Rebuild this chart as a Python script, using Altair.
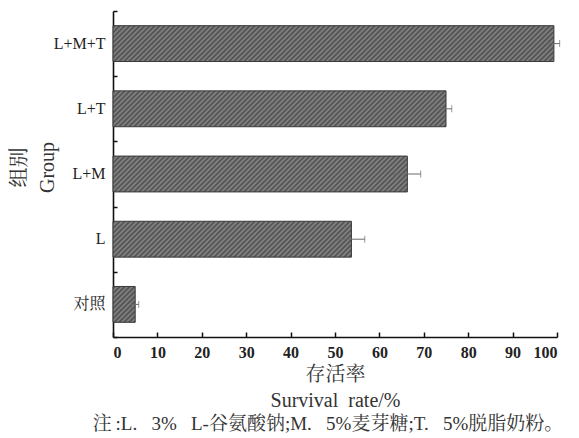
import altair as alt
import pandas as pd

# ---- data ----
groups = ["L+M+T", "L+T", "L+M", "L", "对照"]
survival = [99.3, 75.0, 66.3, 53.7, 5.0]
errors = [1.3, 1.3, 3.0, 3.0, 0.8]
x_ticks = [0, 10, 20, 30, 40, 50, 60, 70, 80, 90, 100]
note = ("注\u2009:L.\u00a0\u00a0 3%\u00a0\u00a0 L-谷氨酸钠;M.\u00a0\u00a0 5%麦芽糖;"
        "T.\u00a0\u00a0 5%脱脂奶粉。")

df = pd.DataFrame({"group": groups, "rate": survival, "err": errors})
df["lo"] = df["rate"] - df["err"]
df["hi"] = df["rate"] + df["err"]

PW, PH = 444, 326
BAND = 0.55
FONT = "Liberation Serif, Noto Serif CJK SC, Noto Sans CJK SC"


def hatch(value, pitch=5.0, light="#7f7f7f", dark="#555555"):
    """Diagonal hatch as a striped linear gradient (style only)."""
    W = max(value / 100.0 * PW, 1.0)
    H = BAND * PH / len(groups)
    D = W + H * H / W
    k = (W + H) / D
    total = W + H
    stops = []
    s = 0.0
    while s < total:
        for frac, col in [(0.0, light), (0.25, dark), (0.5, dark), (0.75, light)]:
            o = (s + frac * pitch) / total
            if o <= 1.0:
                stops.append({"offset": round(o, 5), "color": col})
        s += pitch
    stops.append({"offset": 1.0, "color": light})
    return {"gradient": "linear", "x1": 0, "y1": 0, "x2": round(k, 5),
            "y2": round(k * H / W, 5), "stops": stops}


yscale = alt.Scale(domain=groups, paddingInner=0, paddingOuter=0)
xscale = alt.Scale(domain=[0, 100], nice=False)

main_x = alt.Axis(values=x_ticks, ticks=False, domain=True, domainColor="#111",
                  domainWidth=1.6, labelFont="Liberation Serif", labelFontSize=16,
                  labelFontWeight="bold", labelColor="#222", labelPadding=7,
                  grid=False, title=["存活率", "Survival\u00a0 rate/%"], titleFont=FONT,
                  titleFontSize=20, titleFontWeight="normal", titleColor="#333",
                  titleLineHeight=26, titlePadding=4)
main_y = alt.Axis(ticks=False, domain=True, domainColor="#111", domainWidth=1.6,
                  labelFont=FONT, labelFontSize=16, labelColor="#222",
                  labelPadding=8, grid=False, title=["组别", "Group"],
                  titleFont=FONT, titleFontSize=20, titleFontWeight="normal",
                  titleColor="#333", titleLineHeight=28, titleX=-84, titleY=156,
                  titleAngle=270)

bars = []
for g, v in zip(groups, survival):
    bars.append(
        alt.Chart(df).transform_filter(alt.datum.group == g)
        .mark_bar(fill=hatch(v), stroke="#3a3a3a", strokeWidth=1,
                  height=alt.RelativeBandSize(band=BAND))
        .encode(x=alt.X("rate:Q", scale=xscale, axis=main_x),
                y=alt.Y("group:N", scale=yscale, sort=groups, axis=main_y))
    )
bar_layer = alt.layer(*bars)

tick_x = alt.Axis(values=x_ticks, orient="bottom", offset=-5, tickSize=5,
                  tickWidth=1.5, tickColor="#111", domain=False, labels=False,
                  grid=False, title="")
tick_y = alt.Axis(orient="left", offset=-4, tickSize=4, tickWidth=1.5,
                  tickColor="#111", tickBand="extent", domain=False,
                  labels=False, grid=False, title="")

err_rule = alt.Chart(df).mark_rule(color="#6a6a6a", strokeWidth=1).encode(
    x=alt.X("lo:Q", scale=xscale, axis=tick_x),
    x2="hi:Q",
    y=alt.Y("group:N", scale=yscale, sort=groups, axis=tick_y),
)
cap_lo = alt.Chart(df).mark_tick(color="#6a6a6a", thickness=1, size=7).encode(
    x=alt.X("lo:Q", scale=xscale, axis=tick_x),
    y=alt.Y("group:N", scale=yscale, sort=groups, axis=tick_y),
)
cap_hi = alt.Chart(df).mark_tick(color="#6a6a6a", thickness=1, size=7).encode(
    x=alt.X("hi:Q", scale=xscale, axis=tick_x),
    y=alt.Y("group:N", scale=yscale, sort=groups, axis=tick_y),
)
err_layer = alt.layer(err_rule, cap_lo, cap_hi)

chart = (
    alt.layer(bar_layer, err_layer)
    .resolve_axis(x="independent", y="independent")
    .properties(
        width=PW, height=PH,
        autosize=alt.AutoSizeParams(type="none"),
        padding={"left": 105, "top": 3, "right": 14, "bottom": 101},
        title=alt.TitleParams(note, orient="bottom", anchor="middle",
                              font=FONT, fontSize=19, fontWeight="normal",
                              color="#333", offset=5, dx=-7),
        background="white",
    )
    .configure_view(stroke=None)
)

chart.save("out.html", embed_options={"renderer": "svg", "actions": False})
